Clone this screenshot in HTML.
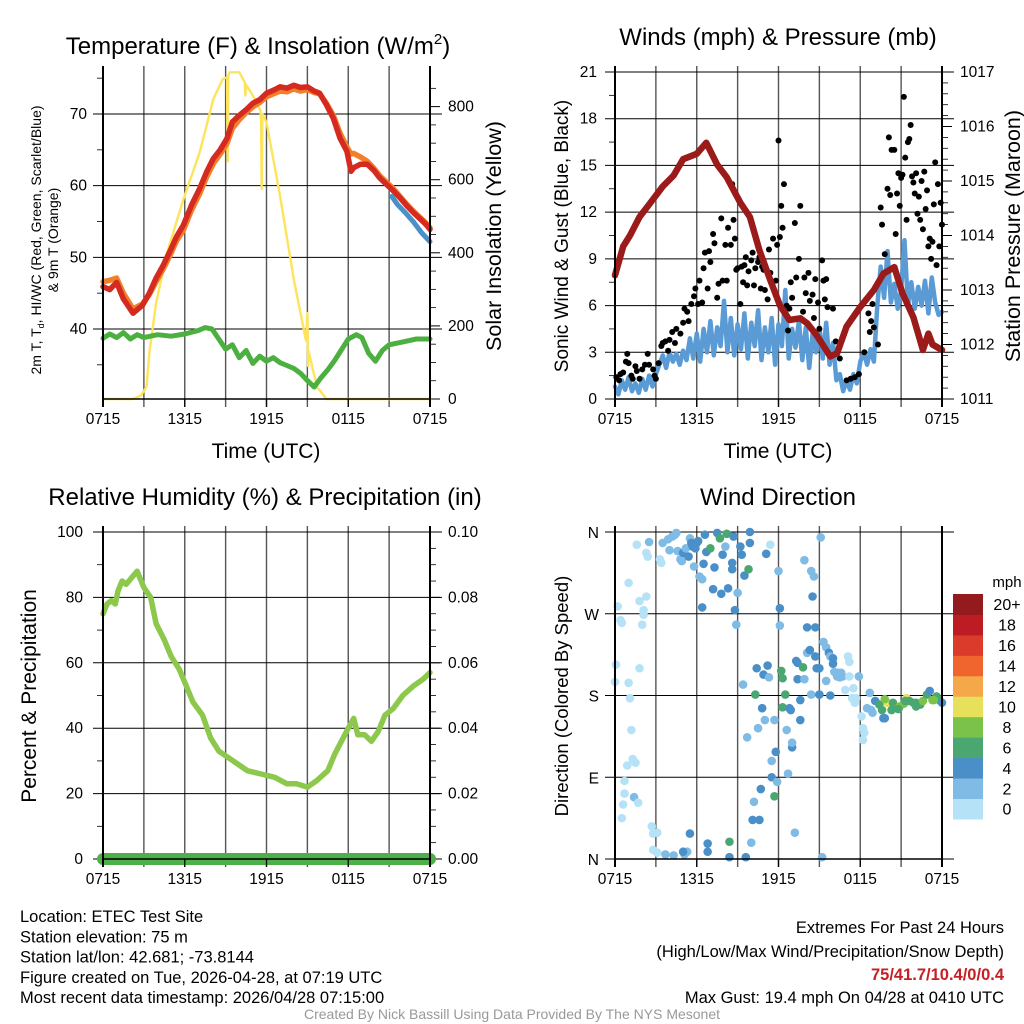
<!DOCTYPE html>
<html><head><meta charset="utf-8"><style>
html,body{margin:0;padding:0;background:#fff;}
svg{display:block;font-family:"Liberation Sans",sans-serif;}
</style></head><body>
<svg id="c" width="1024" height="1024" viewBox="0 0 1024 1024"></svg>
<script>
// ---------- DATA ----------
const tempHours=[0,0.5,1,1.5,2.2,2.9,3.4,3.9,4.4,4.9,5.4,5.9,6.5,7.1,7.6,8.1,8.6,9.1,9.5,10,10.5,11,11.5,12,12.5,13,13.5,14,14.5,15,15.5,15.9,16.4,16.9,17.4,17.9,18.2,18.4,18.9,19.4,19.9,20.3,20.8,21.3,21.8,22.3,22.8,23.3,23.7,24];
const tempVals=[45.9,45.5,46.5,44.2,42.2,43.3,45.0,47.1,48.8,50.8,52.9,54.5,57.3,59.6,61.9,63.8,65.0,66.6,68.9,69.8,70.6,71.5,72.0,72.9,73.3,73.8,73.6,74.0,73.7,73.8,73.2,72.9,71.3,69.4,66.6,64.8,62.0,62.5,63.0,63.0,62.1,61.1,60.2,59.3,58.3,57.2,56.2,55.3,54.6,53.9];
const t9Vals=[46.6,46.8,47.1,45.0,42.8,43.5,44.8,46.6,48.3,50.2,52.3,53.8,56.6,58.9,61.2,63.1,64.4,65.9,68.0,69.2,70.2,71.0,71.6,72.4,72.8,73.2,73.1,73.5,73.2,73.4,73.0,72.8,71.5,69.8,67.3,65.4,64.4,64.5,64.0,63.4,62.4,61.4,60.5,59.6,58.5,57.4,56.4,55.5,54.8,54.1];
const hiHours=[21.2,21.6,22.2,22.8,23.4,24];
const hiVals=[58.5,57.4,56.2,54.9,53.4,52.2];
const dewHours=[0,0.5,1,1.5,2,2.5,3,4,5,6,7,7.5,8,8.5,9,9.5,10,10.5,11,11.5,12,12.5,13,13.5,14,14.5,15,15.5,16,16.5,17,18,18.6,19,19.5,20,20.5,21,22,23,24];
const dewVals=[38.7,39.3,38.8,39.5,38.6,39.2,38.8,39.2,39.0,39.3,39.8,40.2,40.0,38.6,37.2,37.8,36.0,37.0,35.2,36.2,35.5,36.0,35.3,34.9,34.5,33.8,32.8,31.9,33.2,34.3,35.6,38.6,39.2,38.8,36.6,35.5,37.0,37.8,38.2,38.6,38.6];
const solHours=[0,2.2,2.8,3.2,3.4,3.9,4.7,5.9,7.1,8.1,8.8,9.1,9.15,9.2,9.3,10,10.4,10.45,10.5,11,11.55,11.6,11.65,11.7,12,13,14,14.9,15.0,15.05,15.1,15.7,16.4,24];
const solVals=[0,0,10,34,125,263,400,546,675,821,876,880,650,885,894,894,867,830,860,830,790,760,575,780,757,555,327,160,235,90,130,34,0,0];
const windHourStep=0.25;
const windVals=[0.8,0.3,1.2,0.6,1.4,0.5,1.0,0.4,1.3,0.6,1.5,0.8,1.6,
2.2,2.8,2.0,3.0,2.4,2.9,2.2,3.1,2.5,3.9,2.6,4.2,
2.4,4.5,3.0,5.0,2.8,4.6,3.4,6.3,3.0,5.2,2.8,4.8,
3.2,5.5,2.6,4.9,3.4,5.7,2.5,4.6,3.0,5.2,2.2,4.8,
3.4,7.0,2.6,4.5,3.3,5.0,2.5,4.6,2.0,4.2,3.0,4.6,
2.6,4.9,2.2,3.6,1.2,1.6,0.5,1.2,0.6,1.6,1.0,2.4,
3.0,2.2,3.2,2.4,6.0,8.5,6.5,9.5,6.2,7.4,5.8,7.0,
10.2,6.0,7.5,5.8,7.2,6.0,7.6,5.5,7.8,6.2,5.4,5.6];
const gustHours=[0.1,0.3,0.4,0.6,0.8,0.9,1.0,1.2,1.3,1.5,1.6,1.8,2.0,2.2,2.4,2.5,2.8,2.9,3.0,3.2,3.4,3.5,3.7,3.9,4.0,4.2,4.4,4.5,4.8,5.0,5.1,5.3,5.4,5.6,5.8,5.9,6.1,6.2,6.4,6.5,6.6,6.8,6.9,7.0,7.2,7.3,7.5,7.6,7.8,7.9,8.1,8.2,8.3,8.5,8.6,8.7,8.8,8.9,9.0,9.2,9.3,9.4,9.5,9.6,9.7,9.8,10.0,10.1,10.2,10.3,10.5,10.6,10.7,10.8,10.9,11.0,11.2,11.3,11.4,11.6,11.8,11.9,12.0,12.1,12.2,12.3,12.4,12.6,12.7,12.8,12.9,13.0,13.2,13.3,13.5,13.6,13.8,13.9,14.0,14.2,14.3,14.5,14.6,14.7,14.9,15.0,15.2,15.3,15.4,15.5,15.6,16.0,16.2,16.5,17.0,17.3,17.6,17.9,18.3,18.6,18.7,18.8,18.9,19.0,19.3,19.5,19.6,19.8,20.0,20.1,20.2,20.3,20.5,20.6,20.7,20.8,20.9,21.0,21.1,21.2,21.3,21.4,21.5,21.6,21.7,21.8,21.9,22.0,22.1,22.2,22.3,22.4,22.5,22.6,22.7,22.8,22.9,23.0,23.1,23.2,23.3,23.4,23.5,23.6,23.7,23.8,23.9,24.0];
const gustVals=[1.4,1.2,1.6,1.7,2.4,2.9,2.3,1.5,1.3,2.1,1.8,1.3,1.9,2.2,2.9,2.2,1.9,1.5,1.3,2.3,3.4,3.6,3.7,3.1,3.8,4.3,3.6,4.5,4.2,4.9,5.8,5.6,5.0,6.1,6.6,7.1,6.1,7.6,6.2,8.4,9.4,7.1,9.5,8.8,10.6,10.0,6.5,7.4,11.6,7.6,9.9,7.6,11.0,9.9,13.8,11.5,10.3,8.3,8.4,6.1,8.5,7.5,8.6,9.1,7.3,8.2,8.9,9.4,7.3,8.4,8.8,9.1,7.1,8.5,8.3,7.0,6.4,9.6,8.1,10.3,7.6,9.9,16.6,10.4,12.4,11.0,13.8,6.0,4.4,5.8,7.5,6.5,11.3,7.8,9.0,12.4,5.6,7.8,6.8,8.1,6.3,6.7,5.2,7.7,6.2,4.5,8.9,7.6,6.4,7.7,5.9,5.8,3.7,2.6,1.2,1.3,1.4,1.6,3.0,5.5,4.3,5.0,6.1,4.6,3.5,12.3,11.2,9.3,13.5,16.8,13.1,16.0,16.0,10.6,13.2,14.5,12.4,14.2,14.4,19.4,15.5,11.5,16.5,16.7,17.6,14.3,13.9,13.2,14.5,11.9,13.0,11.5,14.0,10.9,14.6,12.2,13.4,9.8,10.3,9.0,10.1,12.5,15.2,8.6,13.8,9.8,12.6,11.2];
const presHours=[0,0.6,1.1,1.8,2.6,3.5,4.3,5,6,6.7,7.5,8.2,9.2,9.9,10.6,11.4,12.1,12.8,13.6,14.1,14.8,15.8,16.3,17,18,19,19.7,20.5,21.1,21.9,22.6,23,23.3,24];
const presVals=[1013.27,1013.8,1014.0,1014.34,1014.6,1014.9,1015.1,1015.4,1015.5,1015.7,1015.3,1015.07,1014.6,1014.34,1013.73,1013.18,1012.72,1012.45,1012.48,1012.39,1012.17,1011.78,1011.84,1012.33,1012.69,1013.0,1013.3,1013.42,1012.94,1012.5,1011.9,1012.2,1012.0,1011.9];
const rhHours=[0,0.3,0.6,0.9,1.1,1.4,1.7,2.1,2.5,3.0,3.5,3.9,4.5,5.0,5.6,6.0,6.6,7.3,7.9,8.5,9.2,9.9,10.6,11.6,12.6,13.5,14.2,15.0,15.7,16.5,17.0,17.5,18.0,18.4,18.7,19.2,19.7,20.2,20.7,21.3,22.0,22.8,23.5,24.0];
const rhVals=[75,78,79,78,82,85,84,86,88,83,80,72,67,62,58,54,48,44,37,33,31,29,27,26,25,23,23,22,24,27,32,36,40,43,38,38,36,39,44,46,50,53,55,57];
const precipHours=[0,24];
const precipVals=[0,0];
const dirHour=[
0.07,0,0.2,0.4,0.5,1.0,1.0,1.1,1.2,0.9,
0.7,0.7,0.6,0.5,1.3,1.5,1.4,1.7,1.6,1.8,
1.8,2.0,2.1,2.1,2.3,2.3,2.4,2.5,2.7,2.8,
3.1,2.8,3.1,3.3,3.4,3.5,3.7,3.9,4.2,4.3,
4.4,4.5,4.0,4.6,4.8,4.9,5.0,5.1,5.2,5.3,
5.0,5.4,5.5,5.6,5.7,5.8,5.9,6.0,6.1,5.5,
6.2,6.4,6.4,6.5,6.6,6.7,6.8,6.8,7.0,7.2,
7.3,7.5,7.7,7.8,7.9,8.1,8.2,8.3,8.4,8.4,
8.6,8.6,8.7,8.8,8.9,9.0,9.2,9.3,9.4,9.5,
9.6,9.7,9.9,9.9,9.8,10.0,10.1,10.2,10.3,10.4,
10.5,10.6,10.7,10.8,10.9,11.0,11.1,11.2,11.3,11.4,
11.5,11.5,11.7,11.7,11.8,11.9,12.0,12.1,12.1,12.2,
12.3,12.5,12.3,12.6,12.7,12.8,12.9,13.0,13.0,13.2,
13.3,13.4,13.4,13.6,13.6,13.8,13.9,13.9,14.1,14.1,
14.3,14.4,14.4,14.5,14.6,14.7,14.7,14.8,15.0,15.0,
15.1,15.2,15.3,15.5,15.5,15.7,15.8,15.8,16.0,16.0,
16.1,16.3,16.4,16.5,16.6,16.7,16.9,17.1,17.2,17.2,
17.5,17.4,17.6,17.7,17.9,18.1,18.2,18.3,18.2,18.5,
18.7,18.8,18.9,19.1,19.4,19.7,19.6,20.0,20.4,20.7,
20.9,21.2,21.4,21.6,21.9,22.1,22.4,22.6,22.9,23.1,
23.3,23.6,23.8,24,19.8,21.3,23.4,20.3,20.8,22.1,
19.8];
const dirDeg=[
214,195,278,263,260,304,194,177,142,103,
86,72,60,45,110,106,68,62,346,284,
210,258,269,274,289,337,333,349,36,28,
29,10,7,330,326,348,5,352,355,4,
357,359,340,339,330,328,337,5,342,8,
8,333,353,348,344,322,342,348,350,28,
311,308,277,325,357,338,17,8,342,297,
321,359,353,292,335,344,358,298,2,19,
326,319,355,274,258,293,344,335,192,312,
2,134,348,360,319,18,43,63,181,210,
144,43,77,166,203,153,336,213,200,346,
108,90,69,153,118,85,317,276,257,207,
199,181,167,142,94,166,164,123,128,29,
218,198,216,153,175,211,198,329,227,255,
230,181,317,289,311,255,223,210,210,181,
354,2,239,196,233,227,223,180,221,215,
206,201,205,200,205,201,186,223,217,201,
188,177,172,177,201,157,144,139,131,166,
183,164,161,174,170,155,164,172,172,166,
168,171,177,174,172,172,170,174,181,185,
175,179,175,172,176,174,175,164,165,168,
155];
const dirSpd=[
1,1,1,1,1,1,1,1,1,1,
1,1,1,1,1,1,3,1,1,1,
1,1,1,1,1,1,1,3,1,1,
1,1,1,1,1,2.5,2.5,2.5,2.5,2.5,
2.5,3,3,2.5,2.5,2.5,4,3,2.5,3,
4.5,4.5,2.5,4.5,4.5,2.5,4.5,4.5,5,4.5,
3,3,4.5,4.5,4.5,4.5,5,5,6,5,
5,5,6.5,5,5,2.5,6.5,5,5,6.5,
5,5,5,5,3,3,5,5,3,5,
5,3,5,5,6.5,3,5,3,6.5,5,
3,5,5,5,5,3,5,5,3,1,
3,5,6.5,3,5,3,3,5,3,6.5,
6.5,6.5,6.5,3,3,5,5,5,3,3,
5,5,5,5,5,6.5,3,3,3,5,
5,3,3,5,3,5,5,5,5,5,
2,2,2,2,2,5,3,5,5,5,
3,3,3,3,3,3,1,1,1,1,
1,1,1,1,2,1,1,1,1,3,
3,3,3,5,6.5,5,6.5,10,7,7,
8,8,10,7,6.5,7,6.5,8,6.5,5,
8,6.5,6.5,5,8,6.5,8,7,6.5,6.5,
5];
const spdColors=["#b5e2f6","#7fbbe4","#4a8fc7","#4aa772","#7bc24a","#e6e05a","#f5a84a","#f0652e","#da3b2b","#bd1c24","#931b1d"];
const spdLabels=["0","2","4","6","8","10","12","14","16","18","20+"];
const timeLabels=["0715","1315","1915","0115","0715"];

// ---------- HELPERS ----------
const NS="http://www.w3.org/2000/svg";
const svg=document.getElementById('c');
const TICK=15.5;
function mk(tag,attrs,parent){const e=document.createElementNS(NS,tag);for(const k in attrs)e.setAttribute(k,attrs[k]);(parent||svg).appendChild(e);return e;}
function txt(s,x,y,size,anchor,parent,extra){const e=mk('text',Object.assign({x:x,y:y,'font-size':size,'text-anchor':anchor||'middle',fill:'#000'},extra||{}),parent);e.textContent=s;return e;}
function scale(d0,d1,r0,r1){return v=>r0+(v-d0)/(d1-d0)*(r1-r0);}
function frame(P,name){
  const g=mk('g',{});
  
  
  return g;
}
function grid(P,g,yTicks,ys){
  for(let h=3;h<24;h+=3){const x=P.x(h);const l=mk('line',{x1:x,x2:x,y1:P.y0-6,y2:P.y1+8,stroke:'#555','stroke-width':1.4},g);}
  yTicks.forEach(v=>{const y=ys(v);const l=mk('line',{x1:P.x0-10,x2:P.x1+12,y1:y,y2:y,stroke:'#000','stroke-width':1},g);});
}
function xAxis(P,g,labY){
  timeLabels.forEach((s,i)=>{const t=txt(s,P.x(i*6),labY,TICK,'middle',g);});
  const bx=mk('line',{x1:P.x0,x2:P.x1,y1:P.y1,y2:P.y1,stroke:'#000','stroke-width':1.5},g);
  
  for(let i=0;i<=4;i++){mk('line',{x1:P.x(i*6),x2:P.x(i*6),y1:P.y1,y2:P.y1+8,stroke:'#000','stroke-width':1.3},g);}
}
function sides(P,g){
  const l=mk('line',{x1:P.x0,x2:P.x0,y1:P.y0-6,y2:P.y1+8,stroke:'#000','stroke-width':2},g);
  
  const r=mk('line',{x1:P.x1,x2:P.x1,y1:P.y0-6,y2:P.y1+8,stroke:'#000','stroke-width':2},g);
  
}
function minorTicks(P,g,vals,ys,side){
  vals.forEach(v=>{const y=ys(v);if(side==='l')mk('line',{x1:P.x0-6,x2:P.x0,y1:y,y2:y,stroke:'#000','stroke-width':0.8},g);else mk('line',{x1:P.x1,x2:P.x1+6,y1:y,y2:y,stroke:'#000','stroke-width':0.8},g);});
}
function linePath(P,g,hs,vs,ys,color,w,name){
  let d='';hs.forEach((h,i)=>{d+=(i?'L':'M')+P.x(h).toFixed(1)+','+ys(vs[i]).toFixed(1);});
  const p=mk('path',{d:d,fill:'none',stroke:color,'stroke-width':w,'stroke-linejoin':'round','stroke-linecap':'round'},g);
  
  return p;
}
function rotText(s,x,y,size,g,name){
  const t=txt(s,x,y,size,'middle',g,{transform:'rotate(-90 '+x+' '+y+')'});
  return t;
}

// ---------- PANEL 1 ----------
(function(){
  const P={x0:103,x1:430,y0:72,y1:399};P.x=scale(0,24,P.x0,P.x1);
  const yl=scale(30.23,75.86,P.y1,P.y0), yr=scale(0,894.7,P.y1,P.y0);
  const g=frame(P,'temperature-panel');
  grid(P,g,[40,50,60,70],yl);
  [40,50,60,70].forEach(v=>{const t=txt(v,P.x0-16,yl(v)+5,TICK,'end',g);});
  minorTicks(P,g,[35,45,55,65,75],yl,'l');
  [0,200,400,600,800].forEach(v=>{mk('line',{x1:P.x1,x2:P.x1+10,y1:yr(v),y2:yr(v),stroke:'#000'},g);const t=txt(v,P.x1+18,yr(v)+5,TICK,'start',g);});
  minorTicks(P,g,[50,100,150,250,300,350,450,500,550,650,700,750,850],yr,'r');
  linePath(P,g,solHours,solVals,yr,'#fde45a',2.4,'insolation-line');
  linePath(P,g,dewHours,dewVals,yl,'#4bb040',5,'dewpoint-line');
  linePath(P,g,tempHours,t9Vals,yl,'#f47f2a',5.5,'temp-9m-line');
  linePath(P,g,tempHours,tempVals,yl,'#d42a20',5.5,'temp-2m-line');
  linePath(P,g,hiHours,hiVals,yl,'#4a8fc7',5,'windchill-line');
  sides(P,g);xAxis(P,g,424);
  const t=txt('Temperature (F) & Insolation (W/m',258,54,24,'middle',g);
  const ts=mk('tspan',{'font-size':15,dy:-10},t);ts.textContent='2';const ts2=mk('tspan',{dy:10},t);ts2.textContent=')';
  const xt=txt('Time (UTC)',266,458,21,'middle',g);
  const a=rotText('',41,240,14,g,'y-axis-title');a.innerHTML='2m T, T<tspan font-size="9" dy="3">d</tspan><tspan dy="-3">, HI/WC (Red, Green, Scarlet/Blue)</tspan>';
  rotText('& 9m T (Orange)',58,240,14,g,'y-axis-title-line2');
  rotText('Solar Insolation (Yellow)',501,236,21.5,g,'y2-axis-title');
})();

// ---------- PANEL 2 ----------
(function(){
  const P={x0:615,x1:942,y0:72,y1:399};P.x=scale(0,24,P.x0,P.x1);
  const yl=scale(0,21,P.y1,P.y0), yr=scale(1011,1017,P.y1,P.y0);
  const g=frame(P,'winds-panel');
  const tk=[0,3,6,9,12,15,18,21];
  grid(P,g,tk,yl);
  tk.forEach(v=>{const t=txt(v,P.x0-18,yl(v)+5,TICK,'end',g);});
  minorTicks(P,g,[1.5,4.5,7.5,10.5,13.5,16.5,19.5],yl,'l');
  [1011,1012,1013,1014,1015,1016,1017].forEach(v=>{mk('line',{x1:P.x1,x2:P.x1+10,y1:yr(v),y2:yr(v),stroke:'#000'},g);const t=txt(v,P.x1+18,yr(v)+5,TICK,'start',g);});
  const mn=[];for(let v=1011.2;v<1017;v+=0.2){if(Math.abs(v-Math.round(v))>0.05)mn.push(v);}minorTicks(P,g,mn,yr,'r');
  const wh=windVals.map((v,i)=>i*windHourStep);
  linePath(P,g,wh,windVals,yl,'#5b9bd5',4.5,'sonic-wind-line');
  gustHours.forEach((h,i)=>{const c=mk('circle',{cx:P.x(h),cy:yl(gustVals[i]),r:3,fill:'#000'},g);});
  linePath(P,g,presHours,presVals,yr,'#9b1b1b',6.5,'pressure-line');
  sides(P,g);xAxis(P,g,424);
  const t=txt('Winds (mph) & Pressure (mb)',778,45,24,'middle',g);
  const xt=txt('Time (UTC)',778,458,21,'middle',g);
  rotText('Sonic Wind & Gust (Blue, Black)',568,236,19,g,'y-axis-title');
  rotText('Station Pressure (Maroon)',1020,236,21.5,g,'y2-axis-title');
})();

// ---------- PANEL 3 ----------
(function(){
  const P={x0:103,x1:430,y0:532,y1:859};P.x=scale(0,24,P.x0,P.x1);
  const yl=scale(0,100,P.y1,P.y0), yr=scale(0,0.1,P.y1,P.y0);
  const g=frame(P,'humidity-panel');
  const tk=[0,20,40,60,80,100];
  grid(P,g,tk,yl);
  tk.forEach(v=>{const t=txt(v,P.x0-20,yl(v)+5,TICK,'end',g);});
  minorTicks(P,g,[10,30,50,70,90],yl,'l');
  ['0.00','0.02','0.04','0.06','0.08','0.10'].forEach(s=>{const v=parseFloat(s);mk('line',{x1:P.x1,x2:P.x1+10,y1:yr(v),y2:yr(v),stroke:'#000'},g);const t=txt(s,P.x1+18,yr(v)+5,TICK,'start',g);});
  minorTicks(P,g,[0.005,0.01,0.015,0.025,0.03,0.035,0.045,0.05,0.055,0.065,0.07,0.075,0.085,0.09,0.095],yr,'r');
  linePath(P,g,rhHours,rhVals,yl,'#8cc84b',5.5,'rh-line');
  linePath(P,g,precipHours,precipVals,yr,'#4db04a',12,'precip-line');
  sides(P,g);xAxis(P,g,884);
  const t=txt('Relative Humidity (%) & Precipitation (in)',265,505,24,'middle',g);
  rotText('Percent & Precipitation',36,696,21,g,'y-axis-title');
})();

// ---------- PANEL 4 ----------
(function(){
  const P={x0:615,x1:942,y0:532,y1:859};P.x=scale(0,24,P.x0,P.x1);
  const yl=scale(0,360,P.y1,P.y0);
  const g=frame(P,'wind-direction-panel');
  const tk=[0,90,180,270,360], tl=['N','E','S','W','N'];
  grid(P,g,tk,yl);
  tk.forEach((v,i)=>{const t=txt(tl[i],P.x0-16,yl(v)+6,TICK,'end',g);});
  dirHour.forEach((h,i)=>{const s=dirSpd[i]===undefined?1:dirSpd[i];const b=Math.min(10,Math.floor(s/2));const c=mk('circle',{cx:P.x(h),cy:yl(dirDeg[i]),r:4.3,fill:spdColors[b]},g);});
  sides(P,g);xAxis(P,g,884);
  const t=txt('Wind Direction',778,505,24,'middle',g);
  rotText('Direction (Colored By Speed)',568,696,18.5,g,'y-axis-title');
  const cb=mk('g',{},svg);
  const top=594,bh=20.45;
  spdColors.forEach((c,i)=>{const y=top+(10-i)*bh;const r=mk('rect',{x:953,y:y,width:30,height:bh+0.5,fill:c},cb);
    const l=txt(spdLabels[i],1007,y+bh/2+6,16,'middle',cb);});
  const u=txt('mph',1007,587,15,'middle',cb);
})();

// ---------- FOOTER ----------
(function(){
  const g=mk('g',{});
  const left=['Location: ETEC Test Site','Station elevation: 75 m','Station lat/lon: 42.681; -73.8144','Figure created on Tue, 2026-04-28, at 07:19 UTC','Most recent data timestamp: 2026/04/28 07:15:00'];
  left.forEach((s,i)=>{const t=txt(s,20,922+i*20.3,16.5,'start',g,{textLength:0});t.removeAttribute('textLength');});
  const r1=txt('Extremes For Past 24 Hours',1004,933,16.5,'end',g);
  const r2=txt('(High/Low/Max Wind/Precipitation/Snow Depth)',1004,957,16.5,'end',g);
  const r3=txt('75/41.7/10.4/0/0.4',1004,980,16.5,'end',g,{fill:'#c42026','font-weight':'bold'});
  const r4=txt('Max Gust: 19.4 mph On 04/28 at 0410 UTC',1004,1003,16.5,'end',g);
  const c=txt('Created By Nick Bassill Using Data Provided By The NYS Mesonet',512,1019,14,'middle',g,{fill:'#999'});
})();
</script>
</body></html>
